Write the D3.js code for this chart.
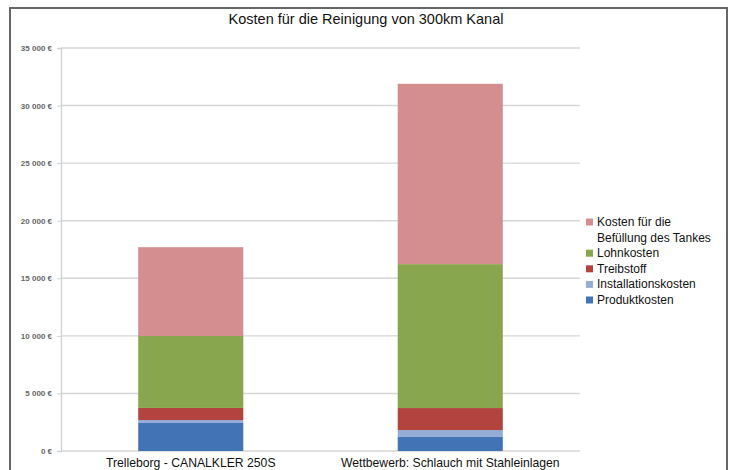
<!DOCTYPE html>
<html>
<head>
<meta charset="utf-8">
<script src="https://cdn.jsdelivr.net/npm/d3@7"></script>
<style>
  html, body { margin: 0; padding: 0; background: #fff; }
  svg { display: block; font-family: "Liberation Sans", Arial, sans-serif; }
</style>
</head>
<body>
<div id="chart"></div>
<script>
// values (EUR)
const categories = ['Trelleborg - CANALKLER 250S', 'Wettbewerb: Schlauch mit Stahleinlagen'];
const seriesNames = ['Produktkosten', 'Installationskosten', 'Treibstoff', 'Lohnkosten', 'Kosten für die Befüllung des Tankes'];
const produktkosten = [2430, 1220];
const installationskosten = [260, 600];
const treibstoff = [1050, 1910];
const lohnkosten = [6250, 12500];
const befuellung = [7710, 15660];
const yTicks = [0, 5000, 10000, 15000, 20000, 25000, 30000, 35000];
const colors = ['#4173b5', '#95add6', '#b2433e', '#88a64e', '#d48e90'];

const width = 732;
const height = 470;

const svg = d3.select('#chart')
  .append('svg')
  .attr('width', width)
  .attr('height', height);

// frame
svg.append('path')
  .attr('d', `M10,${height} V8 H727 V${height}`)
  .attr('fill', 'none')
  .attr('stroke', '#666')
  .attr('stroke-width', 2);

const rows = categories.map((c, i) => ({
  cat: c,
  s0: produktkosten[i],
  s1: installationskosten[i],
  s2: treibstoff[i],
  s3: lohnkosten[i],
  s4: befuellung[i]
}));
const keys = ['s0', 's1', 's2', 's3', 's4'];
const stacked = d3.stack().keys(keys)(rows);

const x = d3.scaleBand()
  .domain(categories)
  .range([61, 580])
  .paddingInner(0.595)
  .paddingOuter(0.2975);

const y = d3.scaleLinear()
  .domain([0, 35000])
  .range([451, 48]);

const locale = d3.formatLocale({ decimal: ',', thousands: ' ', grouping: [3], currency: ['', ' €'] });
const fmt = locale.format('$,');

// gridlines
svg.append('g')
  .selectAll('line')
  .data(yTicks)
  .enter()
  .append('line')
  .attr('x1', 61)
  .attr('x2', 580)
  .attr('y1', d => y(d))
  .attr('y2', d => y(d))
  .attr('stroke', '#d6d6d6')
  .attr('stroke-width', 1.4);

// y axis
const yAxis = svg.append('g')
  .attr('transform', 'translate(61,0)')
  .call(d3.axisLeft(y).tickValues(yTicks).tickFormat(d => fmt(d)).tickSize(4).tickPadding(5));
yAxis.select('.domain').attr('stroke', '#d0d0d0').attr('stroke-width', 1.3);
yAxis.selectAll('.tick line').attr('stroke', '#d0d0d0');
yAxis.selectAll('text')
  .attr('fill', '#666')
  .style('font-size', '8px')
  .style('font-weight', 'bold');

// bars
svg.append('g')
  .selectAll('g')
  .data(stacked)
  .enter()
  .append('g')
  .attr('fill', (d, i) => colors[i])
  .selectAll('rect')
  .data(d => d)
  .enter()
  .append('rect')
  .attr('x', d => x(d.data.cat))
  .attr('width', x.bandwidth())
  .attr('y', d => y(d[1]))
  .attr('height', d => y(d[0]) - y(d[1]));

// category labels
svg.append('g')
  .selectAll('text')
  .data(categories)
  .enter()
  .append('text')
  .attr('x', d => x(d) + x.bandwidth() / 2)
  .attr('y', 467)
  .attr('text-anchor', 'middle')
  .style('font-size', '12.2px')
  .attr('fill', '#111')
  .text(d => d);

// title
svg.append('text')
  .attr('x', 366)
  .attr('y', 24)
  .attr('text-anchor', 'middle')
  .style('font-size', '14.5px')
  .attr('fill', '#111')
  .text('Kosten für die Reinigung von 300km Kanal');

// legend (reverse order, first entry wraps)
const legendItems = seriesNames.map((n, i) => ({ name: n, color: colors[i] })).reverse();
const legend = svg.append('g');
let ly = 222;
legendItems.forEach((item, i) => {
  legend.append('rect')
    .attr('x', 586)
    .attr('y', ly - 3.5)
    .attr('width', 7)
    .attr('height', 7)
    .attr('fill', item.color);
  const lines = i === 0 ? ['Kosten für die', 'Befüllung des Tankes'] : [item.name];
  lines.forEach(t => {
    legend.append('text')
      .attr('x', 597)
      .attr('y', ly + 4)
      .style('font-size', '12px')
      .attr('fill', '#111')
      .text(t);
    ly += 15.6;
  });
});
</script>
</body>
</html>
